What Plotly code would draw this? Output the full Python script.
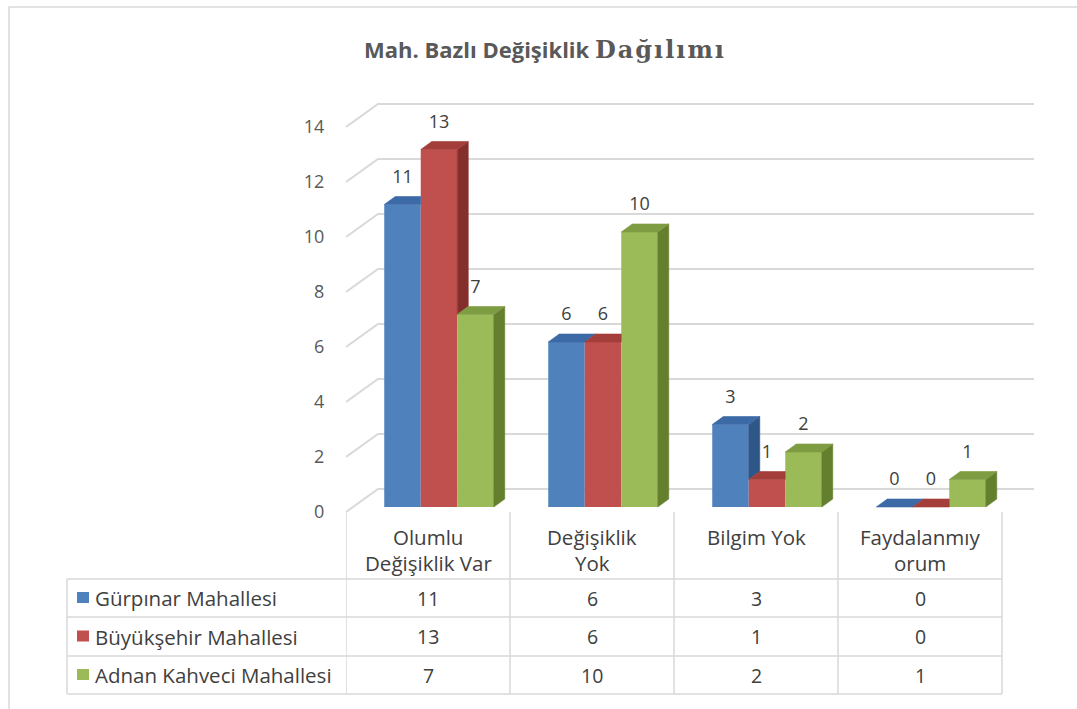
import plotly.graph_objects as go

# ---- data -------------------------------------------------------------
CATEGORIES = ["Olumlu\nDeğişiklik Var", "Değişiklik\nYok", "Bilgim Yok", "Faydalanmıy\norum"]
SERIES_NAMES = ["Gürpınar Mahallesi", "Büyükşehir Mahallesi", "Adnan Kahveci Mahallesi"]
GURPINAR = [11, 6, 3, 0]
BUYUKSEHIR = [13, 6, 1, 0]
ADNAN_KAHVECI = [7, 10, 2, 1]
Y_TICKS = [0, 2, 4, 6, 8, 10, 12, 14]
TITLE_SANS = "Mah. Bazlı Değişiklik"
TITLE_SERIF = "Dağılımı"

# ---- styling ----------------------------------------------------------
FRONT = ["#4F81BD", "#C0504D", "#9BBB59"]
TOP = ["#3C6AA6", "#A43E3B", "#7E9C42"]
SIDE = ["#2E5687", "#852F2C", "#64802F"]
GRID = "#D9D9D9"
FONT = "'Open Sans', Lato, sans-serif"
TEXT_DARK = "#404040"
TABLE_SIZE = 20.5

W, H = 1077, 709
L, R, T, B = 346, 39, 100, 197
PX_X = 164.0   # pixels per category slot
PX_Y = 27.5    # pixels per value unit
X_RANGE = [-0.5, -0.5 + (W - L - R) / PX_X]
Y_RANGE = [0, (H - T - B) / PX_Y]

# pseudo-3D geometry, in axis units
WALL_DX, WALL_DY = 32 / PX_X, 23 / PX_Y     # depth of the back wall
BAR_SHIFT, BAR_LIFT = 11 / PX_X, 5 / PX_Y   # bars sit a little behind the front edge
BAR_DX, BAR_DY = 11 / PX_X, 8 / PX_Y        # depth of each bar
BAR_W = 36.5 / PX_X
LABEL_GAP = 26.5 / PX_Y


def paper_x(px):
    return (px - L) / (W - L - R)


def paper_y(py):
    return (H - B - py) / (H - T - B)


series = [GURPINAR, BUYUKSEHIR, ADNAN_KAHVECI]
xs = list(range(len(CATEGORIES)))

fig = go.Figure()
annotations = []
shapes = []

# back wall gridlines with the diagonal connectors, kept beneath the bars
x_left = X_RANGE[0]
x_right = len(CATEGORIES) - 0.5 + WALL_DX
for v in Y_TICKS:
    shapes.append(dict(
        type="path", xref="x", yref="y", layer="below",
        path=f"M {x_left},{v} L {x_left + WALL_DX},{v + WALL_DY} L {x_right},{v + WALL_DY}",
        line=dict(color=GRID, width=2),
    ))

# front faces of the bars
for k, vals in enumerate(series):
    fig.add_trace(go.Bar(
        x=xs, y=vals, base=[BAR_LIFT] * len(vals), width=BAR_W,
        offset=BAR_SHIFT + (k - 1.5) * BAR_W, name=SERIES_NAMES[k],
        marker=dict(color=FRONT[k], line=dict(width=0)),
        hoverinfo="skip", showlegend=False,
    ))


def poly(px, py, color):
    fig.add_trace(go.Scatter(x=px + [px[0]], y=py + [py[0]], mode="lines", fill="toself",
                             fillcolor=color, line=dict(color=color, width=0.6),
                             hoverinfo="skip", showlegend=False))


# side and top faces, hidden parts trimmed against the neighbouring bar
for c in xs:
    for k, vals in enumerate(series):
        v = vals[c]
        nxt = series[k + 1][c] if k + 1 < len(series) else None
        x0 = c + BAR_SHIFT + (k - 1.5) * BAR_W
        x1 = x0 + BAR_W
        top = v + BAR_LIFT
        base = BAR_LIFT + (nxt if nxt is not None else 0)
        if v > 0 and (nxt is None or v > nxt):
            poly([x1, x1 + BAR_DX, x1 + BAR_DX, x1],
                 [base, base + BAR_DY, top + BAR_DY, top], SIDE[k])
        if nxt is not None and nxt > v:
            poly([x0, x1, x1, x0 + BAR_DX],
                 [top, top, top + BAR_DY, top + BAR_DY], TOP[k])
        else:
            poly([x0, x1, x1 + BAR_DX, x0 + BAR_DX],
                 [top, top, top + BAR_DY, top + BAR_DY], TOP[k])

# value labels above the bars
for k, vals in enumerate(series):
    fig.add_trace(go.Scatter(
        x=[c + BAR_SHIFT + (k - 1) * BAR_W for c in xs],
        y=[v + BAR_LIFT + LABEL_GAP for v in vals],
        text=[str(v) for v in vals], mode="text", cliponaxis=False,
        textfont=dict(family=FONT, size=18, color=TEXT_DARK),
        hoverinfo="skip", showlegend=False,
    ))

# title
annotations.append(dict(
    xref="paper", yref="paper", x=paper_x(545), y=paper_y(49),
    xanchor="center", yanchor="middle", showarrow=False,
    text=(f"<b>{TITLE_SANS} </b><b><span style=\"font-family:'DejaVu Serif', serif;"
          f"font-size:24px;letter-spacing:2px\">{TITLE_SERIF}</span></b>"),
    font=dict(family=FONT, size=22, color="#595959"),
))

# data table: header labels
HEADER_LINES_Y = [537, 563]
for c, cat in enumerate(CATEGORIES):
    for i, line in enumerate(cat.split("\n")):
        annotations.append(dict(
            xref="x", yref="paper", x=c, y=paper_y(HEADER_LINES_Y[i]),
            xanchor="center", yanchor="middle", showarrow=False, text=line,
            font=dict(family=FONT, size=TABLE_SIZE, color=TEXT_DARK),
        ))

# data table: rows
ROW_EDGES = [579, 617, 656, 694]
TABLE_LEFT, TABLE_RIGHT = 67, 1002
for k, vals in enumerate(series):
    yc = (ROW_EDGES[k] + ROW_EDGES[k + 1]) / 2
    shapes.append(dict(type="rect", xref="paper", yref="paper",
                       x0=paper_x(77), x1=paper_x(89), y0=paper_y(yc - 6), y1=paper_y(yc + 5),
                       fillcolor=FRONT[k], line=dict(width=0)))
    annotations.append(dict(
        xref="paper", yref="paper", x=paper_x(93), y=paper_y(yc),
        xanchor="left", yanchor="middle", showarrow=False, text=SERIES_NAMES[k],
        font=dict(family=FONT, size=TABLE_SIZE, color=TEXT_DARK),
    ))
    for c, v in enumerate(vals):
        annotations.append(dict(
            xref="x", yref="paper", x=c, y=paper_y(yc),
            xanchor="center", yanchor="middle", showarrow=False, text=str(v),
            font=dict(family=FONT, size=19.5, color=TEXT_DARK),
        ))

line_style = dict(color=GRID, width=1.5)
for ye in ROW_EDGES:
    shapes.append(dict(type="line", xref="paper", yref="paper",
                       x0=paper_x(TABLE_LEFT), x1=paper_x(TABLE_RIGHT),
                       y0=paper_y(ye), y1=paper_y(ye), line=line_style))
shapes.append(dict(type="line", xref="paper", yref="paper",
                   x0=paper_x(TABLE_LEFT), x1=paper_x(TABLE_LEFT),
                   y0=paper_y(ROW_EDGES[0]), y1=paper_y(ROW_EDGES[-1]), line=line_style))
for c in range(len(CATEGORIES) + 1):
    shapes.append(dict(type="line", xref="x", yref="paper",
                       x0=c - 0.5, x1=c - 0.5,
                       y0=paper_y(H - B), y1=paper_y(ROW_EDGES[-1]), line=line_style))

# chart frame
shapes.append(dict(type="rect", xref="paper", yref="paper",
                   x0=paper_x(9), x1=paper_x(W + 20), y0=paper_y(7), y1=paper_y(H + 20),
                   line=dict(color=GRID, width=1.5), fillcolor="rgba(0,0,0,0)"))

fig.update_layout(
    width=W, height=H,
    margin=dict(l=L, r=R, t=T, b=B, pad=0),
    paper_bgcolor="white", plot_bgcolor="white",
    barmode="overlay", showlegend=False,
    font=dict(family=FONT, color="#595959"),
    annotations=annotations, shapes=shapes,
    xaxis=dict(range=X_RANGE, showgrid=False, zeroline=False, showline=False,
               showticklabels=False, ticks="", fixedrange=True),
    yaxis=dict(range=Y_RANGE, tickvals=Y_TICKS, ticktext=[str(t) for t in Y_TICKS],
               showgrid=False, zeroline=False, showline=False,
               ticks="outside", ticklen=17, tickcolor="rgba(0,0,0,0)",
               tickfont=dict(family=FONT, size=18, color="#595959"), fixedrange=True),
)

fig.write_html("out.html")
